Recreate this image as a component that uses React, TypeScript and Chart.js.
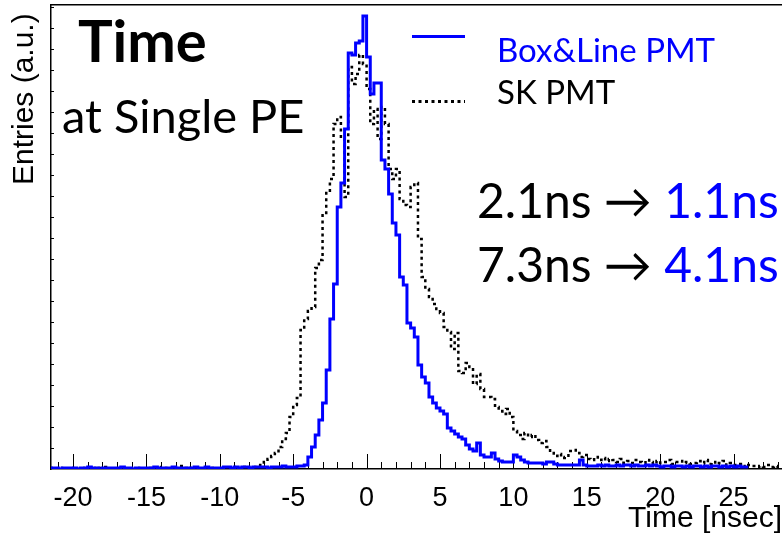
import React, { useEffect, useRef } from "react";
import { Chart, registerables } from "chart.js";

Chart.register(...registerables);

// Histogram binning (ns)
const BIN_START = -21.5;
const BIN_WIDTH = 0.25;

// Axis ranges / tick labels
const X_MIN = -21.5;
const X_MAX = 28.3;
const Y_MAX = 464;
const Y_TICK_STEP = 21;
const X_MAJOR_TICKS = [-20, -15, -10, -5, 0, 5, 10, 15, 20, 25];

const SERIES_NAMES = ["Box&Line PMT", "SK PMT"];

// Box&Line PMT, entries per 0.25 ns bin starting at -21.5 ns (a.u.)
const BOX_LINE_PMT = [
  1, 1,
  1, 0, 1, 1,
  1, 1, 0, 1,
  1, 2, 1, 1,
  0, 1, 1, 1,
  1, 1, 2, 1,
  1, 0, 1, 1,
  1, 1, 1, 2,
  1, 1, 1, 1,
  2, 1, 1, 1,
  1, 1, 2, 1,
  1, 2, 1, 1,
  1, 1, 2, 2,
  1, 2, 1, 2,
  2, 1, 2, 2,
  2, 2, 1, 2,
  2, 2, 3, 2,
  2, 2, 3, 3,
  4, 12, 22, 34,
  49, 66, 99, 150,
  185, 262, 286, 340,
  416, 414, 426, 428,
  453, 412, 375, 386,
  386, 309, 300, 275,
  246, 234, 192, 184,
  146, 141, 132, 104,
  92, 86, 72, 66,
  61, 58, 55, 41,
  38, 35, 32, 30,
  24, 20, 18, 26,
  14, 12, 12, 16,
  10, 8, 7, 7,
  7, 14, 12, 9,
  7, 6, 6, 6,
  6, 5, 7, 7,
  5, 4, 4, 4,
  4, 4, 4, 9,
  4, 3, 3, 3,
  4, 3, 4, 3,
  3, 4, 3, 4,
  4, 3, 4, 3,
  3, 4, 3, 4,
  3, 2, 3, 3,
  2, 3, 3, 2,
  3, 2, 3, 3,
  2, 3, 2, 3,
  3, 2, 3, 2,
  3, 2, 3, 2,
];

// SK PMT, entries per 0.25 ns bin starting at -21.5 ns (a.u.)
const SK_PMT = [
  0, 1,
  0, 1, 0, 0,
  1, 0, 0, 1,
  0, 0, 1, 0,
  1, 2, 0, 0,
  0, 1, 0, 0,
  0, 0, 1, 0,
  0, 0, 1, 0,
  0, 2, 1, 0,
  0, 0, 3, 1,
  0, 1, 0, 0,
  0, 1, 0, 1,
  0, 0, 1, 1,
  2, 1, 0, 2,
  2, 1, 2, 3,
  4, 7, 10, 13,
  16, 22, 30, 36,
  52, 64, 71, 139,
  150, 158, 162, 201,
  209, 256, 276, 290,
  345, 352, 330, 272,
  402, 385, 395, 414,
  405, 380, 345, 360,
  330, 362, 345, 300,
  290, 300, 270, 264,
  262, 282, 286, 230,
  192, 180, 172, 165,
  160, 156, 142, 137,
  120, 136, 98, 96,
  106, 102, 85, 95,
  80, 72, 72, 70,
  62, 58, 55, 60,
  52, 38, 34, 30,
  36, 32, 34, 29,
  26, 28, 22, 16,
  13, 15, 11, 12,
  18, 19, 16, 12,
  14, 10, 9, 12,
  9, 11, 8, 10,
  9, 7, 10, 6,
  8, 6, 9, 7,
  6, 9, 7, 5,
  8, 6, 7, 9,
  5, 7, 8, 6,
  7, 5, 6, 8,
  6, 9, 5, 7,
  5, 6, 8, 4,
  6, 4, 5, 3,
  2, 4, 3, 2,
  3, 2, 4, 2,
  3, 2,
];

const TITLE_TEXT = "Time";
const SUBTITLE_TEXT = "at Single PE";
const RESOLUTION_LINES = [
  ["2.1ns \u2192 ", "1.1ns"],
  ["7.3ns \u2192 ", "4.1ns"],
];

const BLUE = "#0000ff";
const BLACK = "#000000";
const SLIDE_FONT = "Lato, 'Noto Sans', 'DejaVu Sans', sans-serif";
const ROOT_FONT = "'Liberation Sans', Arial, sans-serif";

function toSteps(values: number[]) {
  const pts = values.map((v, i) => ({ x: BIN_START + i * BIN_WIDTH, y: v }));
  pts.push({ x: BIN_START + values.length * BIN_WIDTH, y: values[values.length - 1] });
  return pts;
}

const axisTicksPlugin = {
  id: "axisTicks",
  beforeDatasetsDraw(chart: any) {
    const { ctx, chartArea, scales } = chart;
    const x = scales.x;
    const y = scales.y;
    ctx.save();
    ctx.strokeStyle = BLACK;
    ctx.lineWidth = 1;
    ctx.beginPath();
    for (let v = Math.ceil(x.min); v <= Math.floor(x.max); v++) {
      const px = Math.round(x.getPixelForValue(v)) + 0.5;
      const len = v % 5 === 0 ? 15 : 7;
      ctx.moveTo(px, chartArea.bottom);
      ctx.lineTo(px, chartArea.bottom - len);
    }
    for (let v = Y_TICK_STEP; v < y.max; v += Y_TICK_STEP) {
      const py = Math.round(y.getPixelForValue(v)) + 0.5;
      ctx.moveTo(chartArea.left, py);
      ctx.lineTo(chartArea.left + 3, py);
    }
    ctx.stroke();
    ctx.restore();
  },
};

const overlayTextPlugin = {
  id: "overlayText",
  afterDraw(chart: any) {
    const { ctx } = chart;
    ctx.save();
    ctx.textBaseline = "alphabetic";
    ctx.textAlign = "left";

    // Title block
    ctx.fillStyle = BLACK;
    ctx.font = `bold 58px ${SLIDE_FONT}`;
    ctx.fillText(TITLE_TEXT, 78, 62);
    ctx.font = `47px ${SLIDE_FONT}`;
    ctx.fillText(SUBTITLE_TEXT, 62, 133);

    // Legend
    ctx.lineWidth = 3;
    ctx.strokeStyle = BLUE;
    ctx.setLineDash([]);
    ctx.beginPath();
    ctx.moveTo(412, 36.5);
    ctx.lineTo(465, 36.5);
    ctx.stroke();
    ctx.strokeStyle = BLACK;
    ctx.setLineDash([3, 3.5]);
    ctx.beginPath();
    ctx.moveTo(412, 101.5);
    ctx.lineTo(465, 101.5);
    ctx.stroke();
    ctx.setLineDash([]);
    ctx.font = `33px ${SLIDE_FONT}`;
    ctx.fillStyle = BLUE;
    ctx.fillText(SERIES_NAMES[0], 497, 61.5);
    ctx.fillStyle = BLACK;
    ctx.fillText(SERIES_NAMES[1], 497, 103.5);

    // Resolution annotations
    ctx.font = `48px ${SLIDE_FONT}`;
    const baselines = [218, 282];
    RESOLUTION_LINES.forEach((parts, i) => {
      ctx.fillStyle = BLACK;
      ctx.fillText(parts[0], 477, baselines[i]);
      const w = ctx.measureText(parts[0]).width;
      ctx.fillStyle = BLUE;
      ctx.fillText(parts[1], 477 + w, baselines[i]);
    });
    ctx.restore();
  },
};

export default function App() {
  const canvasRef = useRef<HTMLCanvasElement | null>(null);

  useEffect(() => {
    const canvas = canvasRef.current;
    if (!canvas) return;
    const chart = new Chart(canvas, {
      type: "line",
      data: {
        datasets: [
          {
            label: SERIES_NAMES[0],
            data: toSteps(BOX_LINE_PMT),
            stepped: "after",
            borderColor: BLUE,
            borderWidth: 3,
            pointRadius: 0,
            fill: false,
            order: 0,
          },
          {
            label: SERIES_NAMES[1],
            data: toSteps(SK_PMT),
            stepped: "after",
            borderColor: BLACK,
            borderWidth: 2.5,
            borderDash: [3, 3.5],
            pointRadius: 0,
            fill: false,
            order: 1,
          },
        ],
      },
      options: {
        responsive: false,
        animation: false,
        devicePixelRatio: 1,
        layout: { padding: 0 },
        plugins: {
          legend: { display: false },
          tooltip: { enabled: false },
        },
        scales: {
          x: {
            type: "linear",
            position: "bottom",
            min: X_MIN,
            max: X_MAX,
            afterBuildTicks: (s: any) => {
              s.ticks = X_MAJOR_TICKS.map((v) => ({ value: v }));
            },
            ticks: {
              color: BLACK,
              font: { family: ROOT_FONT, size: 27 },
              padding: 5,
              maxRotation: 0,
              autoSkip: false,
            },
            grid: { display: false },
            border: { display: true, color: BLACK, width: 1.5 },
            title: {
              display: true,
              text: "Time [nsec]",
              align: "end",
              color: BLACK,
              font: { family: ROOT_FONT, size: 30 },
              padding: { top: 0, bottom: -1 },
            },
            afterFit: (s: any) => {
              s.height = 67;
            },
          },
          x2: {
            type: "linear",
            position: "top",
            min: X_MIN,
            max: X_MAX,
            ticks: { display: false },
            grid: { display: false },
            border: { display: true, color: BLACK, width: 1.5 },
            afterFit: (s: any) => {
              s.height = 5;
            },
          },
          y: {
            type: "linear",
            min: 0,
            max: Y_MAX,
            ticks: { display: false },
            grid: { display: false },
            border: { display: true, color: BLACK, width: 1.5 },
            title: {
              display: true,
              text: "Entries (a.u.) ",
              align: "end",
              color: BLACK,
              font: { family: ROOT_FONT, size: 30 },
              padding: { top: 7, bottom: 0 },
            },
            afterFit: (s: any) => {
              s.width = 51;
            },
          },
        },
      },
      plugins: [axisTicksPlugin, overlayTextPlugin],
    } as any);
    return () => chart.destroy();
  }, []);

  return (
    <div style={{ position: "absolute", left: 0, top: 0, width: 782, height: 536, background: "#ffffff" }}>
      <canvas ref={canvasRef} width={782} height={536} style={{ display: "block", width: 782, height: 536 }} />
    </div>
  );
}
